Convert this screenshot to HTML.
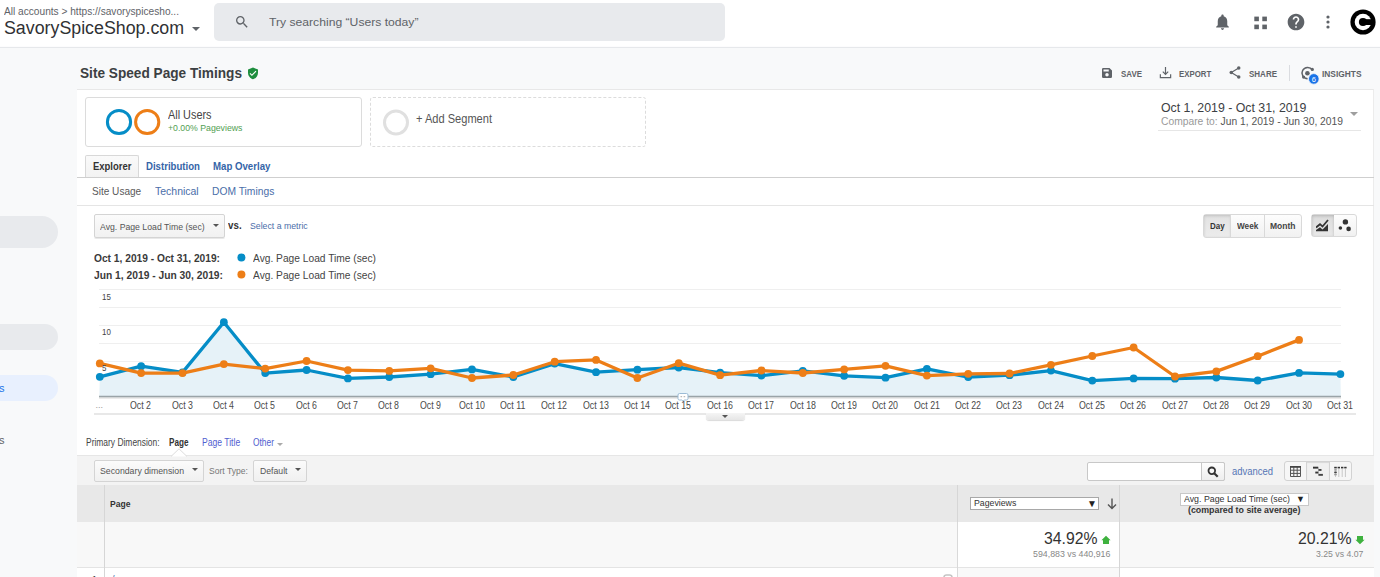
<!DOCTYPE html>
<html><head><meta charset="utf-8">
<style>
*{box-sizing:border-box;margin:0;padding:0}
html,body{width:1380px;height:577px;overflow:hidden;background:#f8f9fa;font-family:"Liberation Sans",sans-serif;color:#333;position:relative}
.a{position:absolute}
.t{position:absolute;white-space:nowrap;transform-origin:0 0}
</style></head><body>
<div class="a" style="left:0px;top:0px;width:1380px;height:47px;background:#fff"></div>
<div class="a" style="left:0px;top:46px;width:1380px;height:1px;background:#fcfcfd"></div>
<div class="a" style="left:0px;top:47px;width:1380px;height:1px;background:#e6e8eb"></div>
<div class="t" style="left:4.00px;top:6.54px;font-size:10px;line-height:10px;color:#5f6368;transform:scaleX(1.0140);">All accounts &gt; https://savoryspicesho...</div>
<div class="t" style="left:4.00px;top:19.46px;font-size:18px;line-height:18px;color:#303134;transform:scaleX(0.9885);">SavorySpiceShop.com</div>
<div class="a" style="left:192.00px;top:27.30px;width:0;height:0;border-left:4.0px solid transparent;border-right:4.0px solid transparent;border-top:4px solid #5f6368"></div>
<div class="a" style="left:214px;top:3px;width:511px;height:38px;background:#e8eaed;border-radius:5px"></div>
<svg class="a" style="left:234px;top:14px" width="16" height="16" viewBox="0 0 24 24"><path fill="#5f6368" d="M15.5 14h-.79l-.28-.27A6.47 6.47 0 0 0 16 9.5 6.5 6.5 0 1 0 9.5 16c1.61 0 3.09-.59 4.23-1.57l.27.28v.79l5 4.99L20.49 19l-4.99-5zm-6 0C7.01 14 5 11.99 5 9.5S7.01 5 9.5 5 14 7.01 14 9.5 11.99 14 9.5 14z"/></svg>
<div class="t" style="left:268.50px;top:16.87px;font-size:11.5px;line-height:11.5px;color:#5f6368;transform:scaleX(1.0569);">Try searching “Users today”</div>
<svg class="a" style="left:1213px;top:12px" width="19" height="20" viewBox="0 0 24 24"><path fill="#5f6368" d="M12 22c1.1 0 2-.9 2-2h-4c0 1.1.9 2 2 2zm6-6v-5c0-3.07-1.64-5.64-4.5-6.32V4c0-.83-.67-1.5-1.5-1.5s-1.5.67-1.5 1.5v.68C7.63 5.36 6 7.92 6 11v5l-2 2v1h16v-1l-2-2z"/></svg>
<svg class="a" style="left:1254px;top:16px" width="14" height="14" viewBox="0 0 14 14"><rect x="0.3" y="0.6" width="4.6" height="4.6" fill="#5f6368"/><rect x="8.3" y="0.6" width="4.6" height="4.6" fill="#5f6368"/><rect x="0.3" y="8.6" width="4.6" height="4.6" fill="#5f6368"/><rect x="8.3" y="8.6" width="4.6" height="4.6" fill="#5f6368"/></svg>
<svg class="a" style="left:1286px;top:12px" width="20" height="20" viewBox="0 0 24 24"><path fill="#5f6368" d="M12 2C6.48 2 2 6.48 2 12s4.48 10 10 10 10-4.48 10-10S17.52 2 12 2zm1 17h-2v-2h2v2zm2.07-7.75l-.9.92C13.45 12.9 13 13.5 13 15h-2v-.5c0-1.1.45-2.1 1.17-2.83l1.24-1.26c.37-.36.59-.86.59-1.41 0-1.1-.9-2-2-2s-2 .9-2 2H8c0-2.21 1.79-4 4-4s4 1.79 4 4c0 .88-.36 1.68-.93 2.25z"/></svg>
<svg class="a" style="left:1326px;top:15px" width="4" height="14" viewBox="0 0 4 14"><circle cx="2" cy="2" r="1.6" fill="#5f6368"/><circle cx="2" cy="7" r="1.6" fill="#5f6368"/><circle cx="2" cy="12" r="1.6" fill="#5f6368"/></svg>
<svg class="a" style="left:1350.3px;top:9.1px" width="26" height="26" viewBox="0 0 26 26"><circle cx="13" cy="13" r="12.6" fill="#000"/><circle cx="13" cy="13" r="8.3" fill="#fff"/><circle cx="13" cy="13" r="4.1" fill="#000"/><rect x="13" y="10.2" width="9" height="5.8" fill="#000"/></svg>
<div class="a" style="left:0px;top:48px;width:78px;height:530px;background:#f8f9fa"></div>
<div class="a" style="left:-20px;top:216px;width:78px;height:32px;background:#e8eaed;border-radius:0 16px 16px 0"></div>
<div class="a" style="left:-20px;top:324px;width:78px;height:26px;background:#e8eaed;border-radius:0 13px 13px 0"></div>
<div class="a" style="left:-20px;top:375px;width:78px;height:26px;background:#e8f0fe;border-radius:0 13px 13px 0"></div>
<div class="t" style="left:-7.00px;top:382.69px;font-size:11px;line-height:11px;color:#1a73e8;">ns</div>
<div class="t" style="left:-7.00px;top:434.69px;font-size:11px;line-height:11px;color:#5f6368;">ns</div>
<div class="a" style="left:78px;top:48px;width:1302px;height:41px;background:#f8f9fa"></div>
<div class="a" style="left:1374px;top:89px;width:6px;height:488px;background:#f8f9fa"></div>
<div class="t" style="left:80.00px;top:65.30px;font-size:15px;line-height:15px;font-weight:bold;color:#3c4043;transform:scaleX(0.9095);">Site Speed Page Timings</div>
<svg class="a" style="left:247px;top:67px" width="12" height="13" viewBox="0 0 24 26"><path fill="#1e8e3e" d="M12 1L2 5v6.5c0 6 4.3 11.6 10 13 5.7-1.4 10-7 10-13V5l-10-4z"/><path fill="#fff" d="M9.8 18l-4.6-4.6 1.6-1.6 3 3 7.4-7.4 1.6 1.6z"/></svg>
<svg class="a" style="left:1101px;top:67px" width="12" height="12" viewBox="0 0 24 24"><path fill="#5f6368" d="M17 2H4.5A2.5 2.5 0 0 0 2 4.5v15A2.5 2.5 0 0 0 4.5 22h15a2.5 2.5 0 0 0 2.5-2.5V7l-5-5zm-5 17c-1.9 0-3.4-1.5-3.4-3.4S10.1 12.2 12 12.2s3.4 1.5 3.4 3.4S13.9 19 12 19zm3.5-10H5V5h10.5v4z"/></svg>
<div class="t" style="left:1121.00px;top:68.87px;font-size:9.6px;line-height:9.6px;font-weight:bold;color:#5f6368;transform:scaleX(0.8258);">SAVE</div>
<svg class="a" style="left:1159px;top:66px" width="13" height="13" viewBox="0 0 24 24"><path fill="none" stroke="#5f6368" stroke-width="2.2" d="M12 2v13M7 10.5l5 5 5-5M2.5 15v6.5h19V15"/></svg>
<div class="t" style="left:1179.30px;top:68.87px;font-size:9.6px;line-height:9.6px;font-weight:bold;color:#5f6368;transform:scaleX(0.8157);">EXPORT</div>
<svg class="a" style="left:1229px;top:66px" width="12" height="13" viewBox="0 0 24 26"><circle cx="19.5" cy="4" r="3.5" fill="#5f6368"/><circle cx="4.5" cy="13" r="3.5" fill="#5f6368"/><circle cx="19.5" cy="22" r="3.5" fill="#5f6368"/><path d="M19.5 4L4.5 13l15 9" fill="none" stroke="#5f6368" stroke-width="2.4"/></svg>
<div class="t" style="left:1249.00px;top:68.87px;font-size:9.6px;line-height:9.6px;font-weight:bold;color:#5f6368;transform:scaleX(0.8332);">SHARE</div>
<div class="a" style="left:1289px;top:65px;width:1px;height:16px;background:#dadce0"></div>
<svg class="a" style="left:1300px;top:64px" width="20" height="21" viewBox="0 0 20 21"><path d="M7.6 14.8 A5.7 5.7 0 1 1 12.4 5.9" fill="none" stroke="#5f6368" stroke-width="1.5"/><circle cx="7.4" cy="9.2" r="2.3" fill="#5f6368"/><circle cx="12.3" cy="5.4" r="1.6" fill="#5f6368"/><circle cx="3.6" cy="13.1" r="1.6" fill="#5f6368"/><circle cx="13.8" cy="14.9" r="5.3" fill="#1a73e8" stroke="#f8f9fa" stroke-width="0.8"/><text x="13.8" y="17.6" font-size="7.5" fill="#fff" text-anchor="middle" font-family="Liberation Sans">6</text></svg>
<div class="t" style="left:1322.00px;top:68.87px;font-size:9.6px;line-height:9.6px;font-weight:bold;color:#5f6368;transform:scaleX(0.8712);">INSIGHTS</div>
<div class="a" style="left:77px;top:89px;width:1297px;height:488px;background:#fff;border-top:1px solid #e8e8e8;border-right:1px solid #ececec"></div>
<div class="a" style="left:85px;top:97px;width:277px;height:50px;border:1px solid #dcdcdc;border-radius:3px;background:#fff"></div>
<svg class="a" style="left:104px;top:107px" width="58" height="30" viewBox="0 0 58 30"><circle cx="15" cy="15" r="11.6" fill="none" stroke="#058dc7" stroke-width="3"/><circle cx="43.2" cy="15" r="11.6" fill="none" stroke="#ed7e17" stroke-width="3"/></svg>
<div class="t" style="left:167.50px;top:108.84px;font-size:12px;line-height:12px;color:#444;transform:scaleX(0.9061);">All Users</div>
<div class="t" style="left:167.50px;top:123.88px;font-size:9px;line-height:9px;color:#52a052;transform:scaleX(0.9687);">+0.00% Pageviews</div>
<div class="a" style="left:370px;top:97px;width:276px;height:50px;border:1px dashed #dcdcdc;border-radius:3px"></div>
<svg class="a" style="left:382px;top:109px" width="28" height="28" viewBox="0 0 28 28"><circle cx="14" cy="13.5" r="11.5" fill="none" stroke="#e0e0e0" stroke-width="3"/></svg>
<div class="t" style="left:416.00px;top:112.84px;font-size:12px;line-height:12px;color:#555;transform:scaleX(0.9224);">+ Add Segment</div>
<div class="t" style="left:1161.20px;top:101.72px;font-size:12.5px;line-height:12.5px;color:#3c4043;transform:scaleX(0.9870);">Oct 1, 2019 - Oct 31, 2019</div>
<div class="t" style="left:1161.20px;top:116.83px;font-size:10px;line-height:10px;transform:scaleX(1.0295);"><span style="color:#999;">Compare to: </span><span style="color:#555;">Jun 1, 2019 - Jun 30, 2019</span></div>
<div class="a" style="left:1158px;top:130px;width:203px;height:1px;background:#e6e6e6"></div>
<div class="a" style="left:1349.50px;top:111.75px;width:0;height:0;border-left:4.5px solid transparent;border-right:4.5px solid transparent;border-top:4.5px solid #9e9e9e"></div>
<div class="a" style="left:85px;top:155px;width:54px;height:23px;background:linear-gradient(#fafafa,#f2f2f2);border:1px solid #d8d8d8;border-bottom:none;border-radius:2px 2px 0 0"></div>
<div class="a" style="left:77px;top:177px;width:1297px;height:1px;background:#cfcfcf"></div>
<div class="t" style="left:92.90px;top:161.53px;font-size:10px;line-height:10px;font-weight:bold;color:#333;transform:scaleX(0.9465);">Explorer</div>
<div class="t" style="left:145.60px;top:161.53px;font-size:10px;line-height:10px;font-weight:bold;color:#3565a8;transform:scaleX(0.9607);">Distribution</div>
<div class="t" style="left:213.40px;top:161.53px;font-size:10px;line-height:10px;font-weight:bold;color:#3565a8;transform:scaleX(0.9651);">Map Overlay</div>
<div class="t" style="left:92.00px;top:185.59px;font-size:11px;line-height:11px;color:#5a5a5a;transform:scaleX(0.9143);">Site Usage</div>
<div class="t" style="left:154.60px;top:185.59px;font-size:11px;line-height:11px;color:#4a6ea9;transform:scaleX(0.9529);">Technical</div>
<div class="t" style="left:211.70px;top:185.59px;font-size:11px;line-height:11px;color:#4a6ea9;transform:scaleX(0.9352);">DOM Timings</div>
<div class="a" style="left:77px;top:205px;width:1297px;height:1px;background:#e5e5e5"></div>
<div class="a" style="left:94px;top:214px;width:131px;height:24px;background:linear-gradient(#fbfbfb,#f1f1f1);border:1px solid #d4d4d4;border-radius:2px;box-shadow:0 1px 0 #e8e8e8"></div>
<div class="t" style="left:100.00px;top:221.66px;font-size:9.5px;line-height:9.5px;color:#555;transform:scaleX(0.9151);">Avg. Page Load Time (sec)</div>
<div class="a" style="left:212.60px;top:224.10px;width:0;height:0;border-left:3.0px solid transparent;border-right:3.0px solid transparent;border-top:3px solid #555"></div>
<div class="t" style="left:228.00px;top:219.61px;font-size:10.5px;line-height:10.5px;color:#333;transform:scaleX(0.9316);font-weight:600;">vs.</div>
<div class="t" style="left:250.30px;top:221.26px;font-size:9.5px;line-height:9.5px;color:#4a6ea9;transform:scaleX(0.9184);">Select a metric</div>
<div class="a" style="left:1203px;top:214px;width:99px;height:24px;border:1px solid #d9d9d9;border-radius:3px;background:linear-gradient(#fdfdfd,#f1f1f1)"></div>
<div class="a" style="left:1204px;top:215px;width:27px;height:22px;background:linear-gradient(#e2e2e2,#ececec);box-shadow:inset 0 1px 3px rgba(0,0,0,.15)"></div>
<div class="a" style="left:1230px;top:215px;width:1px;height:22px;background:#d9d9d9"></div>
<div class="a" style="left:1264px;top:215px;width:1px;height:22px;background:#d9d9d9"></div>
<div class="t" style="left:1210.00px;top:221.88px;font-size:9px;line-height:9px;font-weight:bold;color:#333;transform:scaleX(0.8843);">Day</div>
<div class="t" style="left:1237.00px;top:221.88px;font-size:9px;line-height:9px;font-weight:bold;color:#444;transform:scaleX(0.9122);">Week</div>
<div class="t" style="left:1270.30px;top:221.88px;font-size:9px;line-height:9px;font-weight:bold;color:#444;transform:scaleX(0.9449);">Month</div>
<div class="a" style="left:1311px;top:214px;width:46px;height:23px;border:1px solid #d9d9d9;border-radius:3px;background:linear-gradient(#fdfdfd,#f1f1f1)"></div>
<div class="a" style="left:1312px;top:215px;width:22px;height:21px;background:linear-gradient(#dcdcdc,#e8e8e8);box-shadow:inset 0 1px 3px rgba(0,0,0,.18)"></div>
<svg class="a" style="left:1316px;top:219px" width="13" height="13" viewBox="0 0 13 13"><path d="M0 12.2h12V5L6.5 10.5 4 8.2 0 11z" fill="#333"/><path d="M0 8.5L4 5.2l2.5 2.3L12 1" fill="none" stroke="#333" stroke-width="1.8"/></svg>
<svg class="a" style="left:1337px;top:217px" width="16" height="16" viewBox="0 0 16 16"><circle cx="8.4" cy="4.9" r="2.7" fill="#333"/><circle cx="3.4" cy="11" r="1.8" fill="#333"/><circle cx="11.6" cy="11.9" r="2.3" fill="#333"/></svg>
<div class="t" style="left:93.60px;top:253.19px;font-size:11px;line-height:11px;font-weight:bold;color:#3a3a3a;transform:scaleX(0.9282);">Oct 1, 2019 - Oct 31, 2019:</div>
<div class="t" style="left:93.60px;top:270.49px;font-size:11px;line-height:11px;font-weight:bold;color:#3a3a3a;transform:scaleX(0.9335);">Jun 1, 2019 - Jun 30, 2019:</div>
<svg class="a" style="left:236px;top:252px" width="12" height="30" viewBox="0 0 12 30"><circle cx="5.4" cy="5.6" r="4" fill="#058dc7"/><circle cx="5.4" cy="22.6" r="4" fill="#ed7e17"/></svg>
<div class="t" style="left:253.00px;top:253.19px;font-size:11px;line-height:11px;color:#444;transform:scaleX(0.9284);">Avg. Page Load Time (sec)</div>
<div class="t" style="left:253.00px;top:270.49px;font-size:11px;line-height:11px;color:#444;transform:scaleX(0.9284);">Avg. Page Load Time (sec)</div>
<svg class="a" style="left:0;top:0" width="1380" height="577" viewBox="0 0 1380 577"><line x1="99" y1="289.5" x2="1341" y2="289.5" stroke="#efefef" stroke-width="1"/><line x1="99" y1="307.5" x2="1341" y2="307.5" stroke="#efefef" stroke-width="1"/><line x1="99" y1="325.5" x2="1341" y2="325.5" stroke="#efefef" stroke-width="1"/><line x1="99" y1="343.5" x2="1341" y2="343.5" stroke="#efefef" stroke-width="1"/><line x1="99" y1="361.5" x2="1341" y2="361.5" stroke="#efefef" stroke-width="1"/><line x1="99" y1="379.5" x2="1341" y2="379.5" stroke="#efefef" stroke-width="1"/><polygon points="99.3,396 99.80,376.80 141.15,366.20 182.51,372.40 223.86,322.20 265.21,373.10 306.57,370.00 347.92,378.40 389.27,377.00 430.63,374.20 471.98,369.40 513.33,377.00 554.69,363.60 596.04,372.20 637.39,369.70 678.75,367.50 720.10,372.60 761.45,375.60 802.81,370.90 844.16,375.80 885.51,377.70 926.87,368.90 968.22,377.10 1009.57,375.20 1050.93,370.60 1092.28,380.60 1133.63,378.40 1174.99,378.70 1216.34,377.50 1257.69,380.50 1299.05,372.90 1340.40,374.10 1340.8,396" fill="#e6f2f8"/><polyline points="99.80,376.80 141.15,366.20 182.51,372.40 223.86,322.20 265.21,373.10 306.57,370.00 347.92,378.40 389.27,377.00 430.63,374.20 471.98,369.40 513.33,377.00 554.69,363.60 596.04,372.20 637.39,369.70 678.75,367.50 720.10,372.60 761.45,375.60 802.81,370.90 844.16,375.80 885.51,377.70 926.87,368.90 968.22,377.10 1009.57,375.20 1050.93,370.60 1092.28,380.60 1133.63,378.40 1174.99,378.70 1216.34,377.50 1257.69,380.50 1299.05,372.90 1340.40,374.10" fill="none" stroke="#058dc7" stroke-width="3.3" stroke-linejoin="round"/><circle cx="99.80" cy="376.80" r="3.9" fill="#058dc7"/><circle cx="141.15" cy="366.20" r="3.9" fill="#058dc7"/><circle cx="182.51" cy="372.40" r="3.9" fill="#058dc7"/><circle cx="223.86" cy="322.20" r="3.9" fill="#058dc7"/><circle cx="265.21" cy="373.10" r="3.9" fill="#058dc7"/><circle cx="306.57" cy="370.00" r="3.9" fill="#058dc7"/><circle cx="347.92" cy="378.40" r="3.9" fill="#058dc7"/><circle cx="389.27" cy="377.00" r="3.9" fill="#058dc7"/><circle cx="430.63" cy="374.20" r="3.9" fill="#058dc7"/><circle cx="471.98" cy="369.40" r="3.9" fill="#058dc7"/><circle cx="513.33" cy="377.00" r="3.9" fill="#058dc7"/><circle cx="554.69" cy="363.60" r="3.9" fill="#058dc7"/><circle cx="596.04" cy="372.20" r="3.9" fill="#058dc7"/><circle cx="637.39" cy="369.70" r="3.9" fill="#058dc7"/><circle cx="678.75" cy="367.50" r="3.9" fill="#058dc7"/><circle cx="720.10" cy="372.60" r="3.9" fill="#058dc7"/><circle cx="761.45" cy="375.60" r="3.9" fill="#058dc7"/><circle cx="802.81" cy="370.90" r="3.9" fill="#058dc7"/><circle cx="844.16" cy="375.80" r="3.9" fill="#058dc7"/><circle cx="885.51" cy="377.70" r="3.9" fill="#058dc7"/><circle cx="926.87" cy="368.90" r="3.9" fill="#058dc7"/><circle cx="968.22" cy="377.10" r="3.9" fill="#058dc7"/><circle cx="1009.57" cy="375.20" r="3.9" fill="#058dc7"/><circle cx="1050.93" cy="370.60" r="3.9" fill="#058dc7"/><circle cx="1092.28" cy="380.60" r="3.9" fill="#058dc7"/><circle cx="1133.63" cy="378.40" r="3.9" fill="#058dc7"/><circle cx="1174.99" cy="378.70" r="3.9" fill="#058dc7"/><circle cx="1216.34" cy="377.50" r="3.9" fill="#058dc7"/><circle cx="1257.69" cy="380.50" r="3.9" fill="#058dc7"/><circle cx="1299.05" cy="372.90" r="3.9" fill="#058dc7"/><circle cx="1340.40" cy="374.10" r="3.9" fill="#058dc7"/><polyline points="99.80,363.40 141.15,373.10 182.51,373.10 223.86,364.10 265.21,368.60 306.57,361.00 347.92,370.10 389.27,370.90 430.63,368.30 471.98,378.00 513.33,375.00 554.69,361.70 596.04,359.90 637.39,378.00 678.75,363.20 720.10,375.20 761.45,370.50 802.81,373.00 844.16,369.40 885.51,365.80 926.87,375.60 968.22,373.80 1009.57,373.50 1050.93,364.80 1092.28,356.00 1133.63,347.50 1174.99,376.50 1216.34,371.40 1257.69,356.20 1299.05,339.90" fill="none" stroke="#ed7e17" stroke-width="3.3" stroke-linejoin="round"/><circle cx="99.80" cy="363.40" r="3.9" fill="#ed7e17"/><circle cx="141.15" cy="373.10" r="3.9" fill="#ed7e17"/><circle cx="182.51" cy="373.10" r="3.9" fill="#ed7e17"/><circle cx="223.86" cy="364.10" r="3.9" fill="#ed7e17"/><circle cx="265.21" cy="368.60" r="3.9" fill="#ed7e17"/><circle cx="306.57" cy="361.00" r="3.9" fill="#ed7e17"/><circle cx="347.92" cy="370.10" r="3.9" fill="#ed7e17"/><circle cx="389.27" cy="370.90" r="3.9" fill="#ed7e17"/><circle cx="430.63" cy="368.30" r="3.9" fill="#ed7e17"/><circle cx="471.98" cy="378.00" r="3.9" fill="#ed7e17"/><circle cx="513.33" cy="375.00" r="3.9" fill="#ed7e17"/><circle cx="554.69" cy="361.70" r="3.9" fill="#ed7e17"/><circle cx="596.04" cy="359.90" r="3.9" fill="#ed7e17"/><circle cx="637.39" cy="378.00" r="3.9" fill="#ed7e17"/><circle cx="678.75" cy="363.20" r="3.9" fill="#ed7e17"/><circle cx="720.10" cy="375.20" r="3.9" fill="#ed7e17"/><circle cx="761.45" cy="370.50" r="3.9" fill="#ed7e17"/><circle cx="802.81" cy="373.00" r="3.9" fill="#ed7e17"/><circle cx="844.16" cy="369.40" r="3.9" fill="#ed7e17"/><circle cx="885.51" cy="365.80" r="3.9" fill="#ed7e17"/><circle cx="926.87" cy="375.60" r="3.9" fill="#ed7e17"/><circle cx="968.22" cy="373.80" r="3.9" fill="#ed7e17"/><circle cx="1009.57" cy="373.50" r="3.9" fill="#ed7e17"/><circle cx="1050.93" cy="364.80" r="3.9" fill="#ed7e17"/><circle cx="1092.28" cy="356.00" r="3.9" fill="#ed7e17"/><circle cx="1133.63" cy="347.50" r="3.9" fill="#ed7e17"/><circle cx="1174.99" cy="376.50" r="3.9" fill="#ed7e17"/><circle cx="1216.34" cy="371.40" r="3.9" fill="#ed7e17"/><circle cx="1257.69" cy="356.20" r="3.9" fill="#ed7e17"/><circle cx="1299.05" cy="339.90" r="3.9" fill="#ed7e17"/><line x1="99" y1="396.6" x2="1341" y2="396.6" stroke="#9aa4a8" stroke-width="1.8"/><line x1="99" y1="398.2" x2="1341" y2="398.2" stroke="#e2e2e2" stroke-width="1"/><line x1="94" y1="414" x2="1356" y2="414" stroke="#e8e8e8" stroke-width="2"/></svg>
<div class="t" style="left:102.20px;top:292.58px;font-size:9px;line-height:9px;color:#444;transform:scaleX(0.8800);">15</div>
<div class="t" style="left:102.20px;top:327.98px;font-size:9px;line-height:9px;color:#444;transform:scaleX(0.8800);">10</div>
<div class="t" style="left:102.20px;top:363.98px;font-size:9px;line-height:9px;color:#444;transform:scaleX(0.8800);">5</div>
<div class="t" style="left:95.50px;top:400.88px;font-size:9px;line-height:9px;color:#999;">...</div>
<div class="t" style="left:130.35px;top:400.88px;font-size:10.3px;line-height:10.3px;color:#4a4a4a;transform:scaleX(0.8532);">Oct 2</div>
<div class="t" style="left:171.71px;top:400.88px;font-size:10.3px;line-height:10.3px;color:#4a4a4a;transform:scaleX(0.8532);">Oct 3</div>
<div class="t" style="left:213.06px;top:400.88px;font-size:10.3px;line-height:10.3px;color:#4a4a4a;transform:scaleX(0.8532);">Oct 4</div>
<div class="t" style="left:254.41px;top:400.88px;font-size:10.3px;line-height:10.3px;color:#4a4a4a;transform:scaleX(0.8532);">Oct 5</div>
<div class="t" style="left:295.77px;top:400.88px;font-size:10.3px;line-height:10.3px;color:#4a4a4a;transform:scaleX(0.8532);">Oct 6</div>
<div class="t" style="left:337.12px;top:400.88px;font-size:10.3px;line-height:10.3px;color:#4a4a4a;transform:scaleX(0.8532);">Oct 7</div>
<div class="t" style="left:378.47px;top:400.88px;font-size:10.3px;line-height:10.3px;color:#4a4a4a;transform:scaleX(0.8532);">Oct 8</div>
<div class="t" style="left:419.83px;top:400.88px;font-size:10.3px;line-height:10.3px;color:#4a4a4a;transform:scaleX(0.8532);">Oct 9</div>
<div class="t" style="left:458.68px;top:400.88px;font-size:10.3px;line-height:10.3px;color:#4a4a4a;transform:scaleX(0.8569);">Oct 10</div>
<div class="t" style="left:500.36px;top:400.88px;font-size:10.3px;line-height:10.3px;color:#4a4a4a;transform:scaleX(0.8569);">Oct 11</div>
<div class="t" style="left:541.39px;top:400.88px;font-size:10.3px;line-height:10.3px;color:#4a4a4a;transform:scaleX(0.8569);">Oct 12</div>
<div class="t" style="left:582.74px;top:400.88px;font-size:10.3px;line-height:10.3px;color:#4a4a4a;transform:scaleX(0.8569);">Oct 13</div>
<div class="t" style="left:624.09px;top:400.88px;font-size:10.3px;line-height:10.3px;color:#4a4a4a;transform:scaleX(0.8569);">Oct 14</div>
<div class="t" style="left:665.45px;top:400.88px;font-size:10.3px;line-height:10.3px;color:#4a4a4a;transform:scaleX(0.8569);">Oct 15</div>
<div class="t" style="left:706.80px;top:400.88px;font-size:10.3px;line-height:10.3px;color:#4a4a4a;transform:scaleX(0.8569);">Oct 16</div>
<div class="t" style="left:748.15px;top:400.88px;font-size:10.3px;line-height:10.3px;color:#4a4a4a;transform:scaleX(0.8569);">Oct 17</div>
<div class="t" style="left:789.51px;top:400.88px;font-size:10.3px;line-height:10.3px;color:#4a4a4a;transform:scaleX(0.8569);">Oct 18</div>
<div class="t" style="left:830.86px;top:400.88px;font-size:10.3px;line-height:10.3px;color:#4a4a4a;transform:scaleX(0.8569);">Oct 19</div>
<div class="t" style="left:872.21px;top:400.88px;font-size:10.3px;line-height:10.3px;color:#4a4a4a;transform:scaleX(0.8569);">Oct 20</div>
<div class="t" style="left:913.57px;top:400.88px;font-size:10.3px;line-height:10.3px;color:#4a4a4a;transform:scaleX(0.8569);">Oct 21</div>
<div class="t" style="left:954.92px;top:400.88px;font-size:10.3px;line-height:10.3px;color:#4a4a4a;transform:scaleX(0.8569);">Oct 22</div>
<div class="t" style="left:996.27px;top:400.88px;font-size:10.3px;line-height:10.3px;color:#4a4a4a;transform:scaleX(0.8569);">Oct 23</div>
<div class="t" style="left:1037.63px;top:400.88px;font-size:10.3px;line-height:10.3px;color:#4a4a4a;transform:scaleX(0.8569);">Oct 24</div>
<div class="t" style="left:1078.98px;top:400.88px;font-size:10.3px;line-height:10.3px;color:#4a4a4a;transform:scaleX(0.8569);">Oct 25</div>
<div class="t" style="left:1120.33px;top:400.88px;font-size:10.3px;line-height:10.3px;color:#4a4a4a;transform:scaleX(0.8569);">Oct 26</div>
<div class="t" style="left:1161.69px;top:400.88px;font-size:10.3px;line-height:10.3px;color:#4a4a4a;transform:scaleX(0.8569);">Oct 27</div>
<div class="t" style="left:1203.04px;top:400.88px;font-size:10.3px;line-height:10.3px;color:#4a4a4a;transform:scaleX(0.8569);">Oct 28</div>
<div class="t" style="left:1244.39px;top:400.88px;font-size:10.3px;line-height:10.3px;color:#4a4a4a;transform:scaleX(0.8569);">Oct 29</div>
<div class="t" style="left:1285.75px;top:400.88px;font-size:10.3px;line-height:10.3px;color:#4a4a4a;transform:scaleX(0.8569);">Oct 30</div>
<div class="t" style="left:1327.10px;top:400.88px;font-size:10.3px;line-height:10.3px;color:#4a4a4a;transform:scaleX(0.8569);">Oct 31</div>
<svg class="a" style="left:677px;top:392px" width="12" height="11" viewBox="0 0 12 11"><path d="M2.5 1.5h7a1.5 1.5 0 0 1 1.5 1.5v3.5a1.5 1.5 0 0 1-1.5 1.5H7.2L6 9.2 4.8 8H2.5A1.5 1.5 0 0 1 1 6.5V3a1.5 1.5 0 0 1 1.5-1.5z" fill="#fff" stroke="#9bbbd6" stroke-width="1"/><rect x="3.5" y="4.2" width="1.6" height="1" fill="#aaa"/><rect x="6.6" y="4.2" width="1.6" height="1" fill="#aaa"/></svg>
<div class="a" style="left:706px;top:413px;width:39px;height:7px;background:linear-gradient(#f5f5f5,#e6e6e6);border-radius:0 0 3px 3px;box-shadow:0 1px 1px rgba(0,0,0,.15)"></div>
<div class="a" style="left:722.10px;top:414.75px;width:0;height:0;border-left:3.5px solid transparent;border-right:3.5px solid transparent;border-top:3.5px solid #555"></div>
<div class="t" style="left:85.60px;top:438.20px;font-size:10.4px;line-height:10.4px;color:#444;transform:scaleX(0.8118);">Primary Dimension: </div>
<div class="t" style="left:168.70px;top:438.20px;font-size:10.4px;line-height:10.4px;font-weight:bold;color:#333;transform:scaleX(0.7845);">Page</div>
<div class="t" style="left:201.60px;top:438.20px;font-size:10.4px;line-height:10.4px;color:#5060d0;transform:scaleX(0.8259);">Page Title</div>
<div class="t" style="left:253.00px;top:438.20px;font-size:10.4px;line-height:10.4px;color:#5060d0;transform:scaleX(0.8074);">Other</div>
<div class="a" style="left:277.30px;top:442.80px;width:0;height:0;border-left:3.0px solid transparent;border-right:3.0px solid transparent;border-top:3px solid #aaa"></div>
<div class="a" style="left:77px;top:455px;width:1297px;height:30px;background:#f3f3f3;border-top:1px solid #e6e6e6"></div>
<svg class="a" style="left:171px;top:448px" width="16" height="9" viewBox="0 0 16 9"><path d="M0 8.5L8 0.8l8 7.7" fill="#fff" stroke="#dcdcdc" stroke-width="1"/></svg>
<div class="a" style="left:94px;top:460px;width:110px;height:22px;background:linear-gradient(#fbfbfb,#f0f0f0);border:1px solid #d4d4d4;border-radius:2px"></div>
<div class="t" style="left:100.30px;top:466.26px;font-size:9.5px;line-height:9.5px;color:#555;transform:scaleX(0.9194);">Secondary dimension</div>
<div class="a" style="left:191.50px;top:468.30px;width:0;height:0;border-left:3.0px solid transparent;border-right:3.0px solid transparent;border-top:3px solid #555"></div>
<div class="t" style="left:208.50px;top:466.26px;font-size:9.5px;line-height:9.5px;color:#777;transform:scaleX(0.8997);">Sort Type:</div>
<div class="a" style="left:253px;top:460px;width:54px;height:22px;background:linear-gradient(#fbfbfb,#f0f0f0);border:1px solid #d4d4d4;border-radius:2px"></div>
<div class="t" style="left:259.50px;top:466.26px;font-size:9.5px;line-height:9.5px;color:#555;transform:scaleX(0.9136);">Default</div>
<div class="a" style="left:295.00px;top:468.30px;width:0;height:0;border-left:3.0px solid transparent;border-right:3.0px solid transparent;border-top:3px solid #555"></div>
<div class="a" style="left:1087px;top:462px;width:138px;height:19px;background:#fff;border:1px solid #c8c8c8;border-radius:2px"></div>
<div class="a" style="left:1201px;top:462px;width:24px;height:19px;background:linear-gradient(#fdfdfd,#eeeeee);border:1px solid #c8c8c8;border-radius:0 2px 2px 0"></div>
<svg class="a" style="left:1207px;top:466px" width="12" height="12" viewBox="0 0 12 12"><circle cx="4.8" cy="4.8" r="3.3" fill="none" stroke="#333" stroke-width="1.8"/><path d="M7.2 7.2l3.5 3.5" stroke="#333" stroke-width="2.2"/></svg>
<div class="t" style="left:1231.80px;top:465.51px;font-size:10.5px;line-height:10.5px;color:#5575b5;transform:scaleX(0.9003);">advanced</div>
<div class="a" style="left:1284px;top:461px;width:68px;height:20px;border:1px solid #d2d2d2;border-radius:3px;background:#f6f6f6"></div>
<div class="a" style="left:1307px;top:462px;width:22px;height:18px;background:#f0f0f0;box-shadow:inset 0 1px 1px rgba(0,0,0,.10)"></div>
<div class="a" style="left:1306px;top:462px;width:1px;height:18px;background:#d2d2d2"></div>
<div class="a" style="left:1329px;top:462px;width:1px;height:18px;background:#d2d2d2"></div>
<svg class="a" style="left:1290px;top:466px" width="11" height="11" viewBox="0 0 11 11"><path d="M0.5 1h10v9.5h-10zM0.5 4.2h10M0.5 7.4h10M3.8 1v9.5M7.2 1v9.5" fill="none" stroke="#555" stroke-width="1"/><rect x="0" y="0" width="11" height="1.6" fill="#444"/></svg>
<svg class="a" style="left:1312px;top:466px" width="12" height="11" viewBox="0 0 12 11"><path d="M6.5 1.5v8" stroke="#bbb" stroke-width="0.8"/><rect x="1" y="0.7" width="5.2" height="1.9" fill="#333"/><rect x="6.5" y="3" width="3" height="1.9" fill="#444"/><rect x="3.3" y="5.6" width="3" height="1.9" fill="#333"/><rect x="6.5" y="7.9" width="4.4" height="1.9" fill="#444"/></svg>
<svg class="a" style="left:1334px;top:466px" width="13" height="11" viewBox="0 0 13 11"><path d="M1.5 3v8M4.8 3v8M8.2 3v8M11.4 3v8" stroke="#c8c8c8" stroke-width="1"/><rect x="0.2" y="0.8" width="2.6" height="1.6" fill="#333"/><rect x="3.6" y="0.8" width="2.4" height="1.6" fill="#333"/><rect x="7" y="0.8" width="2.4" height="1.6" fill="#333"/><rect x="10.2" y="0.8" width="2.4" height="1.6" fill="#333"/><rect x="0.2" y="5.6" width="2.6" height="1.6" fill="#444"/><rect x="0.2" y="3.2" width="2.6" height="1.4" fill="#999"/><rect x="0.2" y="7.9" width="2.6" height="1.4" fill="#999"/></svg>
<div class="a" style="left:77px;top:485px;width:1297px;height:37px;background:#e8e8e8"></div>
<div class="a" style="left:104px;top:485px;width:1px;height:82px;background:#d6d6d6"></div>
<div class="a" style="left:957px;top:485px;width:1px;height:82px;background:#d6d6d6"></div>
<div class="a" style="left:1119px;top:485px;width:1px;height:82px;background:#d6d6d6"></div>
<div class="t" style="left:110.00px;top:499.58px;font-size:9px;line-height:9px;font-weight:bold;color:#333;transform:scaleX(0.9483);">Page</div>
<div class="a" style="left:970px;top:497px;width:129px;height:13px;background:#fff;border:1px solid #a8a8a8"></div>
<div class="t" style="left:973.90px;top:498.78px;font-size:9px;line-height:9px;color:#333;transform:scaleX(0.9719);">Pageviews</div>
<div class="t" style="left:1087.00px;top:498.84px;font-size:10px;line-height:10px;color:#222;">▼</div>
<svg class="a" style="left:1107px;top:498px" width="10" height="12" viewBox="0 0 10 12"><path d="M5 0.5v10M1 6.5l4 4 4-4" fill="none" stroke="#555" stroke-width="1.4"/></svg>
<div class="a" style="left:1180px;top:493px;width:129px;height:13px;background:#fff;border:1px solid #c8c8c8"></div>
<div class="t" style="left:1183.90px;top:494.68px;font-size:9px;line-height:9px;color:#333;transform:scaleX(0.9779);">Avg. Page Load Time (sec)</div>
<div class="t" style="left:1296.00px;top:495.18px;font-size:9px;line-height:9px;color:#222;">▼</div>
<div class="t" style="left:1188.30px;top:506.18px;font-size:9px;line-height:9px;font-weight:bold;color:#333;transform:scaleX(0.9813);">(compared to site average)</div>
<div class="a" style="left:77px;top:522px;width:1297px;height:45px;background:#f8f8f8"></div>
<div class="a" style="left:958px;top:522px;width:161px;height:45px;background:#fff"></div>
<div class="a" style="left:77px;top:567px;width:1297px;height:1px;background:#e4e4e4"></div>
<div class="a" style="left:77px;top:568px;width:1297px;height:10px;background:#fff"></div>
<div class="a" style="left:104px;top:522px;width:1px;height:56px;background:#d6d6d6"></div>
<div class="a" style="left:957px;top:522px;width:1px;height:56px;background:#d6d6d6"></div>
<div class="a" style="left:1119px;top:522px;width:1px;height:56px;background:#d6d6d6"></div>
<div class="t" style="left:1044.30px;top:531.26px;font-size:16px;line-height:16px;color:#333;transform:scaleX(0.9840);">34.92%</div>
<div class="t" style="left:1033.00px;top:549.58px;font-size:9px;line-height:9px;color:#888;transform:scaleX(0.9789);">594,883 vs 440,916</div>
<svg class="a" style="left:1101px;top:534.5px" width="10" height="10" viewBox="0 0 10 10"><path d="M5 0.8L9.6 5.2H8V9H2V5.2H0.4z" fill="#3fb23f"/></svg>
<div class="t" style="left:1298.00px;top:531.26px;font-size:16px;line-height:16px;color:#333;transform:scaleX(0.9895);">20.21%</div>
<div class="t" style="left:1316.30px;top:549.68px;font-size:9px;line-height:9px;color:#888;transform:scaleX(0.9666);">3.25 vs 4.07</div>
<svg class="a" style="left:1355px;top:534.5px" width="10" height="10" viewBox="0 0 10 10"><path d="M5 9.2L9.6 4.8H8V1H2V4.8H0.4z" fill="#3fb23f"/></svg>
<div class="t" style="left:92.00px;top:574.88px;font-size:9px;line-height:9px;color:#333;">1.</div>
<div class="t" style="left:112.00px;top:574.88px;font-size:9px;line-height:9px;color:#3a5fa8;">/</div>
<div class="a" style="left:958px;top:568px;width:161px;height:10px;background:#f9f9f9"></div>
<div class="a" style="left:957px;top:522px;width:1px;height:56px;background:#d9d9d9"></div>
<svg class="a" style="left:943px;top:573.5px" width="10" height="8" viewBox="0 0 10 8"><rect x="1" y="1" width="8" height="8" rx="2.5" fill="#fff" stroke="#c4c4c4" stroke-width="1.6"/><rect x="3.2" y="3" width="3.6" height="6" fill="#666"/></svg>
</body></html>
